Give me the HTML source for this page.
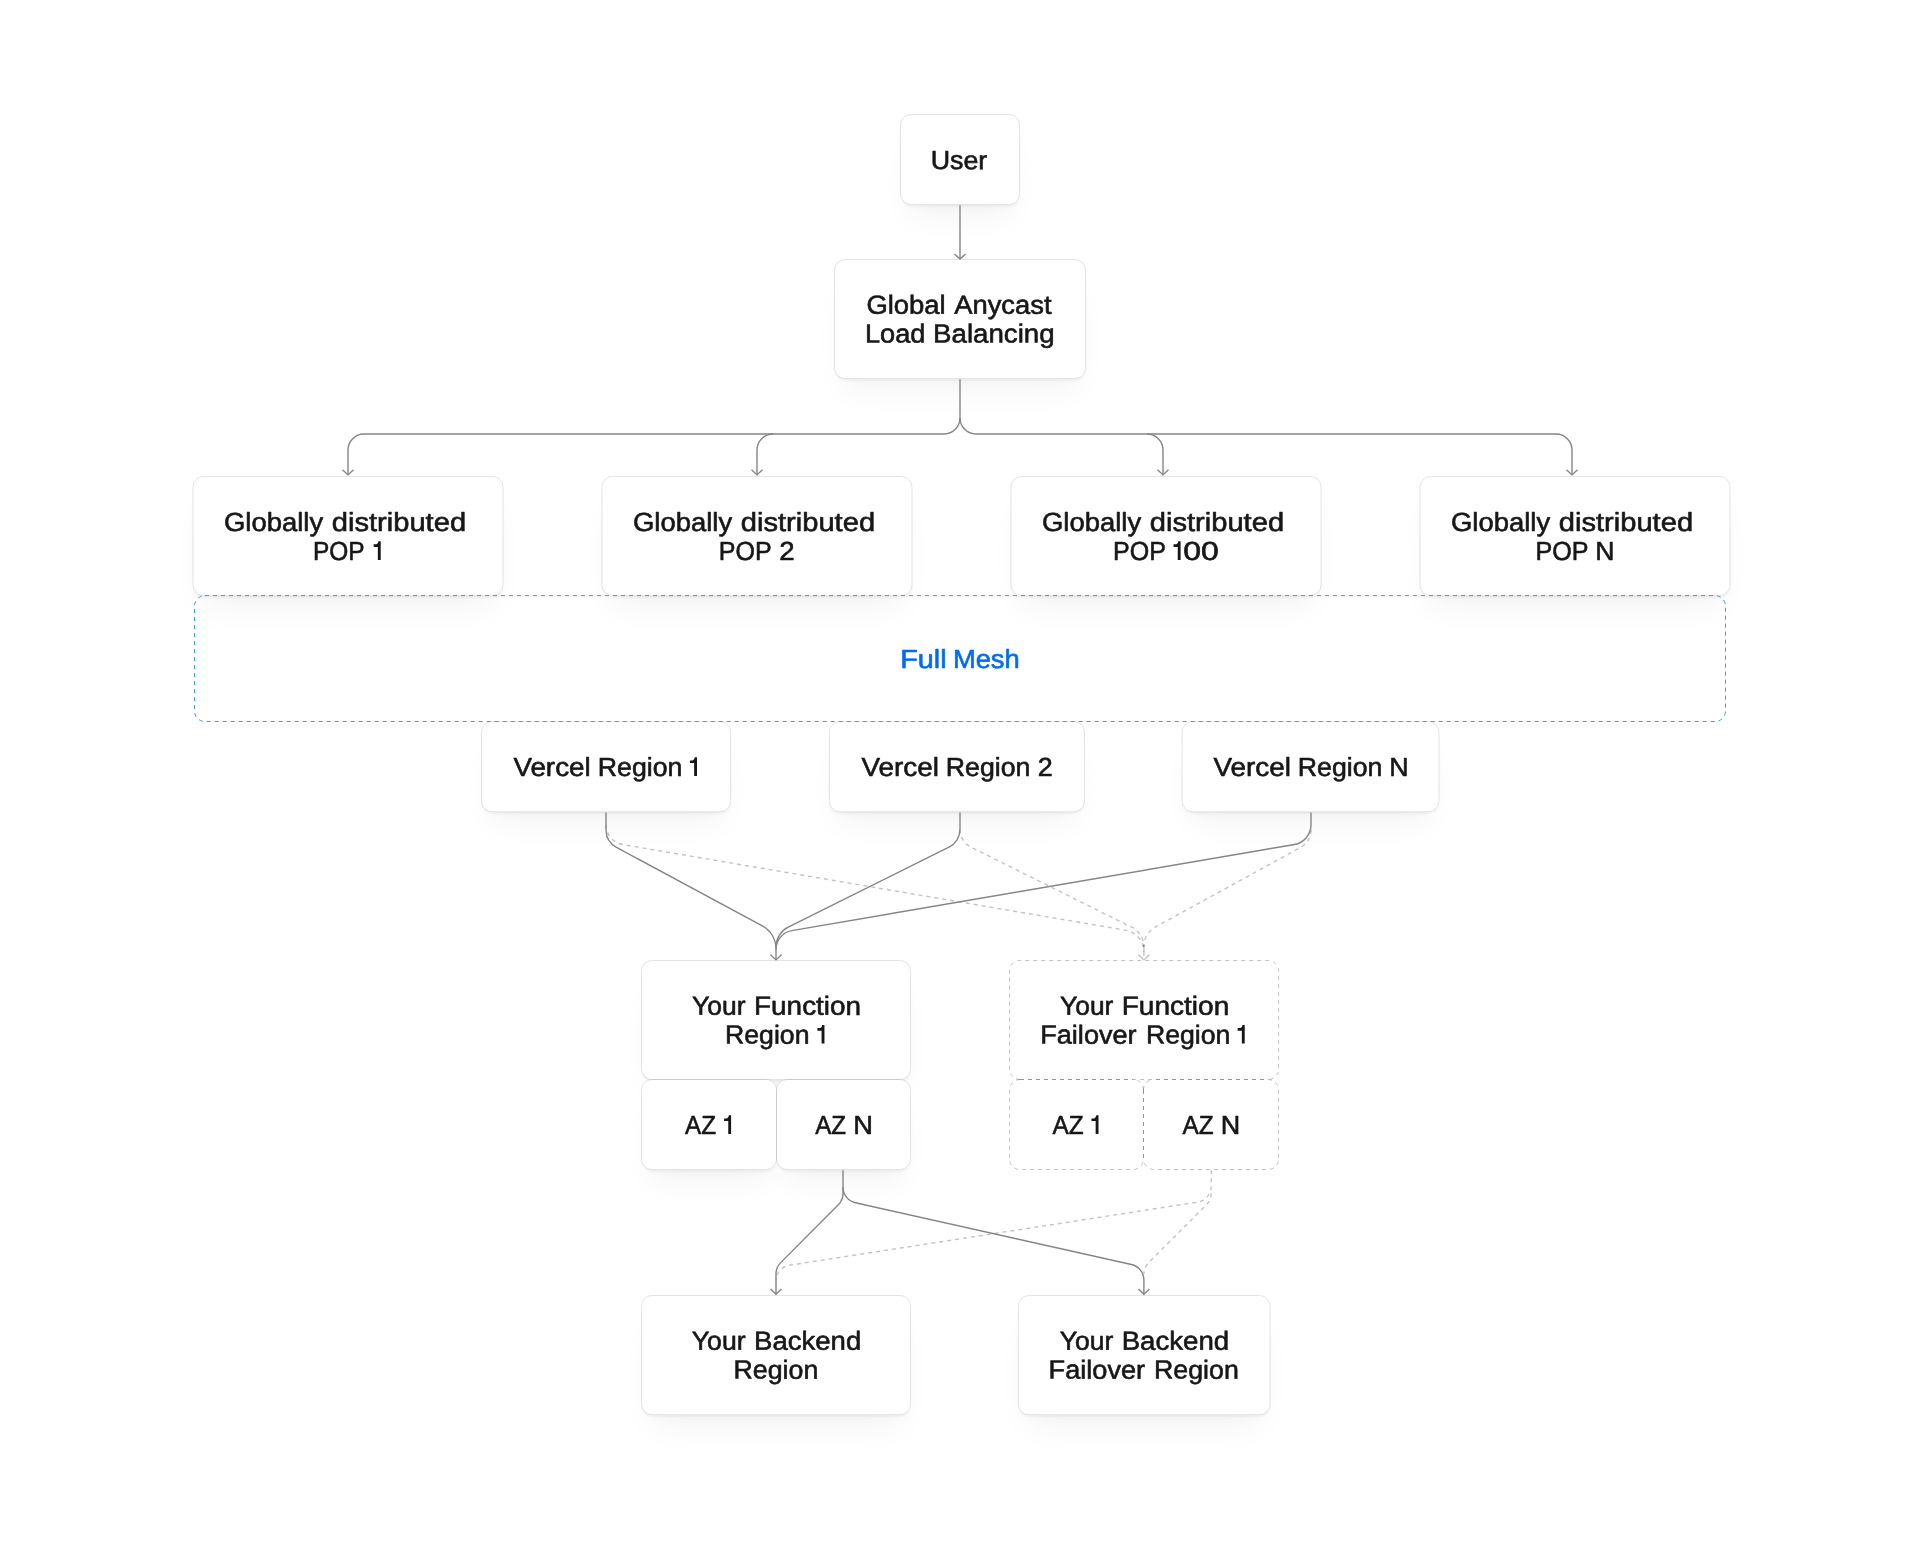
<!DOCTYPE html>
<html><head><meta charset="utf-8"><title>Diagram</title>
<style>
html,body{margin:0;padding:0;background:#fff;}
body{width:1920px;height:1548px;position:relative;overflow:hidden;font-family:"Liberation Sans",sans-serif;}
.sh{position:absolute;background:#fff;border-radius:10.5px;box-shadow:0 1.3px 1.5px rgba(0,0,0,0.03),0 5.3px 10.7px -5.3px rgba(0,0,0,0.035),0 21px 32px -10.7px rgba(0,0,0,0.05);}
svg{position:absolute;left:0;top:0;will-change:transform;}
text{font-family:"Liberation Sans",sans-serif;font-size:26.2px;white-space:pre;stroke-width:0.6px;stroke-linejoin:round;}
</style></head><body>
<div class="sh" style="left:900.5px;top:114.5px;width:119.0px;height:90.0px"></div>
<div class="sh" style="left:834.5px;top:259.5px;width:251.0px;height:119.0px"></div>
<div class="sh" style="left:193.0px;top:476.5px;width:310.0px;height:119.0px"></div>
<div class="sh" style="left:602.0px;top:476.5px;width:310.0px;height:119.0px"></div>
<div class="sh" style="left:1011.0px;top:476.5px;width:310.0px;height:119.0px"></div>
<div class="sh" style="left:1420.0px;top:476.5px;width:310.0px;height:119.0px"></div>
<div class="sh" style="left:481.5px;top:721.5px;width:249.1px;height:90.2px"></div>
<div class="sh" style="left:829.4px;top:721.5px;width:255.1px;height:90.2px"></div>
<div class="sh" style="left:1182.2px;top:721.5px;width:256.8px;height:90.2px"></div>
<div class="sh" style="left:641.5px;top:960.5px;width:269.0px;height:119.0px"></div>
<div class="sh" style="left:641.5px;top:1079.5px;width:135.0px;height:90.0px"></div>
<div class="sh" style="left:776.5px;top:1079.5px;width:134.0px;height:90.0px"></div>
<div class="sh" style="left:641.5px;top:1295.5px;width:269.0px;height:119.1px"></div>
<div class="sh" style="left:1018.4px;top:1295.5px;width:251.6px;height:119.1px"></div>
<svg width="1920" height="1548" viewBox="0 0 1920 1548">
<g fill="#fff" stroke="none">
<rect x="900.50" y="114.50" width="119.00" height="90.00" rx="10.5"/>
<rect x="834.50" y="259.50" width="251.00" height="119.00" rx="10.5"/>
<rect x="193.00" y="476.50" width="310.00" height="119.00" rx="10.5"/>
<rect x="602.00" y="476.50" width="310.00" height="119.00" rx="10.5"/>
<rect x="1011.00" y="476.50" width="310.00" height="119.00" rx="10.5"/>
<rect x="1420.00" y="476.50" width="310.00" height="119.00" rx="10.5"/>
<rect x="481.50" y="721.50" width="249.10" height="90.20" rx="10.5"/>
<rect x="829.40" y="721.50" width="255.10" height="90.20" rx="10.5"/>
<rect x="1182.20" y="721.50" width="256.80" height="90.20" rx="10.5"/>
<rect x="641.50" y="960.50" width="269.00" height="119.00" rx="10.5"/>
<rect x="641.50" y="1079.50" width="135.00" height="90.00" rx="10.5"/>
<rect x="776.50" y="1079.50" width="134.00" height="90.00" rx="10.5"/>
<rect x="641.50" y="1295.50" width="269.00" height="119.10" rx="10.5"/>
<rect x="1018.40" y="1295.50" width="251.60" height="119.10" rx="10.5"/>
</g>
<g fill="none" stroke="rgba(0,0,0,0.105)" stroke-width="1">
<rect x="900.50" y="114.50" width="119.00" height="90.00" rx="10.5"/>
<rect x="834.50" y="259.50" width="251.00" height="119.00" rx="10.5"/>
<rect x="193.00" y="476.50" width="310.00" height="119.00" rx="10.5"/>
<rect x="602.00" y="476.50" width="310.00" height="119.00" rx="10.5"/>
<rect x="1011.00" y="476.50" width="310.00" height="119.00" rx="10.5"/>
<rect x="1420.00" y="476.50" width="310.00" height="119.00" rx="10.5"/>
<rect x="481.50" y="721.50" width="249.10" height="90.20" rx="10.5"/>
<rect x="829.40" y="721.50" width="255.10" height="90.20" rx="10.5"/>
<rect x="1182.20" y="721.50" width="256.80" height="90.20" rx="10.5"/>
<rect x="641.50" y="960.50" width="269.00" height="119.00" rx="10.5"/>
<rect x="641.50" y="1079.50" width="135.00" height="90.00" rx="10.5"/>
<rect x="776.50" y="1079.50" width="134.00" height="90.00" rx="10.5"/>
<rect x="641.50" y="1295.50" width="269.00" height="119.10" rx="10.5"/>
<rect x="1018.40" y="1295.50" width="251.60" height="119.10" rx="10.5"/>
</g>
<g fill="none" stroke="rgba(0,0,0,0.24)" stroke-width="1" stroke-dasharray="4 4">
<path d="M1020.00 1079.50 A10.5 10.5 0 0 1 1009.50 1069.00 V971.00 A10.5 10.5 0 0 1 1020.00 960.50 H1268.10 A10.5 10.5 0 0 1 1278.60 971.00 V1069.00 A10.5 10.5 0 0 1 1268.10 1079.50"/>
<path d="M1020.00 1079.50 H1268.10"/>
<path d="M1020.00 1079.50 A10.5 10.5 0 0 0 1009.50 1090.00 V1159.00 A10.5 10.5 0 0 0 1020.00 1169.50 H1133.00 A10.5 10.5 0 0 0 1143.50 1159.00"/>
<path d="M1143.50 1090.00 A10.5 10.5 0 0 0 1133.00 1079.50"/>
<path d="M1143.50 1090.00 A10.5 10.5 0 0 1 1154.00 1079.50"/>
<path d="M1268.10 1079.50 A10.5 10.5 0 0 1 1278.60 1090.00 V1159.00 A10.5 10.5 0 0 1 1268.10 1169.50 H1154.00 A10.5 10.5 0 0 1 1143.50 1159.00"/>
</g>
<g fill="none" stroke="rgba(0,0,0,0.24)" stroke-width="1" stroke-dasharray="4 4">
<path d="M1020.00 1079.50 H1133.00"/>
<path d="M1154.00 1079.50 H1268.10" stroke-dashoffset="6.00"/>
<path d="M1143.50 1090.00 V1159.00"/>
<path d="M1143.50 1090.00 V1159.00"/>
</g>
<rect x="194.50" y="595.60" width="1531.00" height="125.90" rx="10.5" fill="none" stroke="#3b9af2" stroke-width="1" stroke-dasharray="4 4"/>
<g fill="none" stroke="rgba(0,0,0,0.24)" stroke-width="1.4" stroke-dasharray="4 4">
<path d="M606.00 824.82 A20.00 20.00 0 0 0 622.64 844.53 L1125.59 930.18 A22.00 22.00 0 0 1 1143.90 951.87"/>
<path d="M960.00 829.32 A20.00 20.00 0 0 0 971.08 847.22 L1131.71 927.23 A22.00 22.00 0 0 1 1143.90 946.92"/>
<path d="M1311.00 829.86 A20.00 20.00 0 0 1 1300.61 847.39 L1155.32 927.04 A22.00 22.00 0 0 0 1143.90 946.33"/>
<path d="M1211.20 1170.30 L1211.20 1186.28 A16.00 16.00 0 0 1 1197.65 1202.10 L789.55 1265.20 A16.00 16.00 0 0 0 776.00 1281.02"/>
<path d="M1211.20 1193.37 A16.00 16.00 0 0 1 1206.51 1204.69 L1148.59 1262.61 A16.00 16.00 0 0 0 1143.90 1273.93"/>
</g>
<g fill="none" stroke="rgba(0,0,0,0.24)" stroke-width="1.4">
<path d="M1138.40 954.70 L1143.90 959.90 L1149.40 954.70"/>
<path d="M1143.9 945.3 V955.8"/>
</g>
<g fill="none" stroke="#858585" stroke-width="1.4">
<path d="M960 205.2 L960 259.1"/>
<path d="M960 379.2 V418.00"/>
<path d="M960 418.00 A16 16 0 0 1 944.00 434.00 H364.00 A16 16 0 0 0 348 450.00 V474.90"/>
<path d="M773.00 434.00 A16 16 0 0 0 757 450.00 V474.90"/>
<path d="M960 418.00 A16 16 0 0 0 976.00 434.00 H1556.00 A16 16 0 0 1 1572 450.00 V474.90"/>
<path d="M1147.00 434.00 A16 16 0 0 1 1163 450.00 V474.90"/>
<path d="M606.00 812.60 L606.00 829.76 A20.00 20.00 0 0 0 616.51 847.36 L762.33 925.94 A26.00 26.00 0 0 1 776.00 948.82 L776.00 959.90"/>
<path d="M960.00 812.60 L960.00 829.32 A20.00 20.00 0 0 1 948.91 847.22 L788.20 927.23 A22.00 22.00 0 0 0 776.00 946.92"/>
<path d="M1311.00 812.60 L1311.00 824.83 A20.00 20.00 0 0 1 1294.38 844.55 L791.79 930.60 A19.00 19.00 0 0 0 776.00 949.32"/>
<path d="M843.00 1170.30 L843.00 1193.39 A16.00 16.00 0 0 1 838.34 1204.68 L780.66 1262.62 A16.00 16.00 0 0 0 776.00 1273.91 L776.00 1294.20"/>
<path d="M843.00 1187.18 A16.00 16.00 0 0 0 855.51 1202.80 L1131.39 1264.50 A16.00 16.00 0 0 1 1143.90 1280.12 L1143.90 1294.20"/>
<path d="M954.50 253.90 L960.00 259.10 L965.50 253.90"/>
<path d="M342.50 469.70 L348.00 474.90 L353.50 469.70"/>
<path d="M751.50 469.70 L757.00 474.90 L762.50 469.70"/>
<path d="M1157.50 469.70 L1163.00 474.90 L1168.50 469.70"/>
<path d="M1566.50 469.70 L1572.00 474.90 L1577.50 469.70"/>
<path d="M770.50 954.70 L776.00 959.90 L781.50 954.70"/>
<path d="M770.50 1289.00 L776.00 1294.20 L781.50 1289.00"/>
<path d="M1138.40 1289.00 L1143.90 1294.20 L1149.40 1289.00"/>
</g>
<g>
<text transform="matrix(1.0246 0.001 0 1 930.63 169.10)" fill="#171717" stroke="#171717">User</text>
<text transform="matrix(1.0475 0.001 0 1 866.38 313.75)" fill="#171717" stroke="#171717">Global</text>
<text transform="matrix(1.0454 0.001 0 1 954.18 313.75)" fill="#171717" stroke="#171717">Anycast</text>
<text transform="matrix(1.0374 0.001 0 1 865.01 342.50)" fill="#171717" stroke="#171717">Load</text>
<text transform="matrix(1.0564 0.001 0 1 933.07 342.50)" fill="#171717" stroke="#171717">Balancing</text>
<text transform="matrix(1.0622 0.001 0 1 513.38 776.00)" fill="#171717" stroke="#171717">Vercel</text>
<text transform="matrix(1.0191 0.001 0 1 597.84 776.00)" fill="#171717" stroke="#171717">Region</text>
<path d="M697.00 776.00 h-2.85 v-12.9 h-4.2 v-2.7 h2.85 q1.7 -0.3 2.0 -3.1 h2.2 z" fill="#171717"/>
<text transform="matrix(1.0650 0.001 0 1 861.38 776.00)" fill="#171717" stroke="#171717">Vercel</text>
<text transform="matrix(1.0204 0.001 0 1 945.74 776.00)" fill="#171717" stroke="#171717">Region</text>
<text transform="matrix(1.0262 0.001 0 1 1037.65 776.00)" fill="#171717" stroke="#171717">2</text>
<text transform="matrix(1.0650 0.001 0 1 1213.38 776.00)" fill="#171717" stroke="#171717">Vercel</text>
<text transform="matrix(1.0191 0.001 0 1 1297.84 776.00)" fill="#171717" stroke="#171717">Region</text>
<text transform="matrix(1.0227 0.001 0 1 1389.23 776.00)" fill="#171717" stroke="#171717">N</text>
<text transform="matrix(1.0103 0.001 0 1 692.08 1014.80)" fill="#171717" stroke="#171717">Your</text>
<text transform="matrix(1.0657 0.001 0 1 754.05 1014.80)" fill="#171717" stroke="#171717">Function</text>
<text transform="matrix(1.0178 0.001 0 1 725.04 1043.60)" fill="#171717" stroke="#171717">Region</text>
<path d="M824.45 1043.60 h-2.85 v-12.9 h-4.2 v-2.7 h2.85 q1.7 -0.3 2.0 -3.1 h2.2 z" fill="#171717"/>
<text transform="matrix(1.0056 0.001 0 1 1060.08 1014.80)" fill="#171717" stroke="#171717">Your</text>
<text transform="matrix(1.0714 0.001 0 1 1121.64 1014.80)" fill="#171717" stroke="#171717">Function</text>
<text transform="matrix(1.0352 0.001 0 1 1040.21 1043.60)" fill="#171717" stroke="#171717">Failover</text>
<text transform="matrix(1.0185 0.001 0 1 1145.89 1043.60)" fill="#171717" stroke="#171717">Region</text>
<path d="M1244.70 1043.60 h-2.85 v-12.9 h-4.2 v-2.7 h2.85 q1.7 -0.3 2.0 -3.1 h2.2 z" fill="#171717"/>
<text transform="matrix(0.9245 0.001 0 1 685.08 1134.00)" fill="#171717" stroke="#171717">AZ</text>
<path d="M731.10 1134.00 h-2.85 v-12.9 h-4.2 v-2.7 h2.85 q1.7 -0.3 2.0 -3.1 h2.2 z" fill="#171717"/>
<text transform="matrix(0.9215 0.001 0 1 815.18 1134.00)" fill="#171717" stroke="#171717">AZ</text>
<text transform="matrix(1.0427 0.001 0 1 853.19 1134.00)" fill="#171717" stroke="#171717">N</text>
<text transform="matrix(0.9305 0.001 0 1 1052.48 1134.00)" fill="#171717" stroke="#171717">AZ</text>
<path d="M1098.50 1134.00 h-2.85 v-12.9 h-4.2 v-2.7 h2.85 q1.7 -0.3 2.0 -3.1 h2.2 z" fill="#171717"/>
<text transform="matrix(0.9305 0.001 0 1 1182.58 1134.00)" fill="#171717" stroke="#171717">AZ</text>
<text transform="matrix(1.0293 0.001 0 1 1220.82 1134.00)" fill="#171717" stroke="#171717">N</text>
<text transform="matrix(1.0160 0.001 0 1 691.78 1349.75)" fill="#171717" stroke="#171717">Your</text>
<text transform="matrix(1.0513 0.001 0 1 754.08 1349.75)" fill="#171717" stroke="#171717">Backend</text>
<text transform="matrix(1.0216 0.001 0 1 733.54 1378.60)" fill="#171717" stroke="#171717">Region</text>
<text transform="matrix(1.0113 0.001 0 1 1059.78 1349.75)" fill="#171717" stroke="#171717">Your</text>
<text transform="matrix(1.0553 0.001 0 1 1121.67 1349.75)" fill="#171717" stroke="#171717">Backend</text>
<text transform="matrix(1.0352 0.001 0 1 1048.61 1378.60)" fill="#171717" stroke="#171717">Failover</text>
<text transform="matrix(1.0216 0.001 0 1 1154.04 1378.60)" fill="#171717" stroke="#171717">Region</text>
<text transform="matrix(1.0489 0.001 0 1 223.93 531.00)" fill="#171717" stroke="#171717">Globally</text>
<text transform="matrix(1.1115 0.001 0 1 331.77 531.00)" fill="#171717" stroke="#171717">distributed</text>
<text transform="matrix(1.0489 0.001 0 1 632.93 531.00)" fill="#171717" stroke="#171717">Globally</text>
<text transform="matrix(1.1115 0.001 0 1 740.77 531.00)" fill="#171717" stroke="#171717">distributed</text>
<text transform="matrix(1.0489 0.001 0 1 1041.93 531.00)" fill="#171717" stroke="#171717">Globally</text>
<text transform="matrix(1.1115 0.001 0 1 1149.77 531.00)" fill="#171717" stroke="#171717">distributed</text>
<text transform="matrix(1.0489 0.001 0 1 1450.93 531.00)" fill="#171717" stroke="#171717">Globally</text>
<text transform="matrix(1.1115 0.001 0 1 1558.77 531.00)" fill="#171717" stroke="#171717">distributed</text>
<text transform="matrix(0.9338 0.001 0 1 312.91 559.90)" fill="#171717" stroke="#171717">POP</text>
<path d="M380.70 559.90 h-2.85 v-12.9 h-4.2 v-2.7 h2.85 q1.7 -0.3 2.0 -3.1 h2.2 z" fill="#171717"/>
<text transform="matrix(0.9546 0.001 0 1 718.87 559.90)" fill="#171717" stroke="#171717">POP</text>
<text transform="matrix(1.0569 0.001 0 1 779.32 559.90)" fill="#171717" stroke="#171717">2</text>
<text transform="matrix(0.9546 0.001 0 1 1113.07 559.90)" fill="#171717" stroke="#171717">POP</text>
<path d="M1180.60 559.90 h-2.85 v-12.9 h-4.2 v-2.7 h2.85 q1.7 -0.3 2.0 -3.1 h2.2 z" fill="#171717"/>
<text transform="matrix(1.2204 0.001 0 1 1183.16 559.90)" fill="#171717" stroke="#171717">00</text>
<text transform="matrix(0.9584 0.001 0 1 1535.46 559.90)" fill="#171717" stroke="#171717">POP</text>
<text transform="matrix(1.0160 0.001 0 1 1595.25 559.90)" fill="#171717" stroke="#171717">N</text>
<text transform="matrix(1.1006 0.001 0 1 900.18 667.90)" fill="#006cf2" stroke="#006cf2">Full</text>
<text transform="matrix(1.0441 0.001 0 1 952.89 667.90)" fill="#006cf2" stroke="#006cf2">Mesh</text>
</g>
</svg>
</body></html>
